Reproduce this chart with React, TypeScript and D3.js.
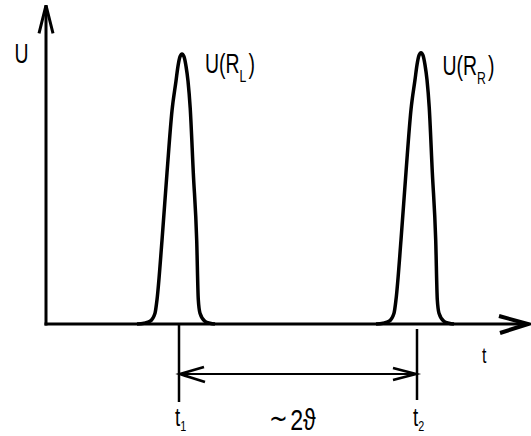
import React from "react";
import * as d3 from "d3";

// Shared pulse shape: offset from pulse centre (time units) and normalised amplitude
const pulseOffsets = [-4.5, -3.8, -3.2, -2.7, -2.5, -2.0, -1.5, -1.0, -0.6, -0.4, -0.2, 0, 0.2, 0.4, 0.6, 0.82, 1.13, 1.47, 1.63, 1.8, 2.3, 2.8, 3.3];
const pulseShape = [0, 0.003, 0.01, 0.04, 0.09, 0.31, 0.56, 0.79, 0.9, 0.955, 0.99, 1, 0.99, 0.955, 0.9, 0.8, 0.56, 0.31, 0.09, 0.04, 0.01, 0.003, 0];

// Pulses
const pulseNames = ["L", "R"];
const pulseCenters = [13.6, 37.5];
const pulseAmplitudes = [1.0, 1.005];

// Marked times
const markTimes = [13.3, 37.1];
const markLabels = ["1", "2"];

const W = 531;
const H = 436;

const FONT = "'Liberation Sans', Arial, sans-serif";
const SX = 0.72;

export default function App() {
  const x = d3.scaleLinear().domain([0, 48.2]).range([46, 528]);
  const y = d3.scaleLinear().domain([0, 1]).range([324, 54]);
  const yTop = y(1.18);
  const xEnd = x(48.2);
  const y0 = y(0);

  const line = d3
    .line<[number, number]>()
    .x((d) => x(d[0]))
    .y((d) => y(d[1]))
    .curve(d3.curveMonotoneX);

  const pulses = pulseCenters.map((c, i) =>
    pulseOffsets.map((o, j) => [c + o, pulseShape[j] * pulseAmplitudes[i]] as [number, number])
  );

  const xa = markTimes.map((t) => x(t));
  const arrowY = 374;

  const sText = (tx: number, ty: number, children: React.ReactNode, size = 27, key?: string) => (
    <g key={key} transform={`translate(${tx},${ty}) scale(${SX},1)`}>
      <text x={0} y={0} fontFamily={FONT} fontSize={size} fill="#000">
        {children}
      </text>
    </g>
  );

  return (
    <svg
      width={W}
      height={H}
      style={{ position: "absolute", left: 0, top: 0, background: "#fff" }}
    >
      {/* axes */}
      <line x1={x(0)} y1={y0 + 1.5} x2={x(0)} y2={yTop} stroke="#000" strokeWidth={3} />
      <polyline
        points={`${x(0) - 7},${yTop + 28} ${x(0)},${yTop} ${x(0) + 7},${yTop + 28}`}
        fill="none"
        stroke="#000"
        strokeWidth={3}
        strokeLinejoin="miter"
      />
      <line x1={x(0) - 1.5} y1={y0} x2={xEnd} y2={y0} stroke="#000" strokeWidth={3} />
      <polyline
        points={`${xEnd - 29},${y0 - 8} ${xEnd},${y0} ${xEnd - 28},${y0 + 9}`}
        fill="none"
        stroke="#000"
        strokeWidth={4}
        strokeLinejoin="miter"
      />

      {/* pulses */}
      {pulses.map((p, i) => (
        <path
          key={i}
          d={line(p) || ""}
          fill="none"
          stroke="#000"
          strokeWidth={3.5}
          strokeLinejoin="round"
        />
      ))}

      {/* time marks */}
      <line x1={xa[0]} y1={y0} x2={xa[0]} y2={402} stroke="#000" strokeWidth={2.5} />
      <line x1={xa[1]} y1={y0 + 5} x2={xa[1]} y2={400} stroke="#000" strokeWidth={2.5} />
      <line x1={xa[0]} y1={arrowY} x2={xa[1]} y2={arrowY} stroke="#000" strokeWidth={2} />
      <path
        d={`M${xa[0] + 25},${arrowY - 7} Q${xa[0] + 8},${arrowY - 2} ${xa[0] + 1},${arrowY} Q${xa[0] + 10},${arrowY + 3} ${xa[0] + 26},${arrowY + 8}`}
        fill="none"
        stroke="#000"
        strokeWidth={2.8}
      />
      <path
        d={`M${xa[1] - 24},${arrowY - 6} L${xa[1] - 1},${arrowY} L${xa[1] - 24},${arrowY + 6}`}
        fill="none"
        stroke="#000"
        strokeWidth={2.6}
      />

      {/* labels */}
      {sText(14.5, 63, "U")}
      {pulseNames.map((n, i) =>
        sText(
          x(pulseCenters[i]) + 23 - i * 1.5,
          73 + i * 2,
          <>
            U(R
            <tspan fontSize={17} dy={9}>
              {n}
            </tspan>
            <tspan fontSize={27} dy={-9} dx={3}>
              )
            </tspan>
          </>,
          27,
          "p" + i
        )
      )}
      {sText(482, 363, "t", 22)}
      {markLabels.map((m, i) =>
        sText(
          xa[i] - 4,
          426,
          <>
            t
            <tspan fontSize={15} dy={5}>
              {m}
            </tspan>
          </>,
          26,
          "m" + i
        )
      )}
      <g transform={`translate(269,430) scale(0.8,1)`}>
        <text x={0} y={0} fontFamily={FONT} fontSize={29} fill="#000">
          <tspan fontFamily="'DejaVu Sans', sans-serif" fontSize={28} dy={-2}>~</tspan>
          <tspan dx={3} dy={2}>2ϑ</tspan>
        </text>
      </g>
    </svg>
  );
}
